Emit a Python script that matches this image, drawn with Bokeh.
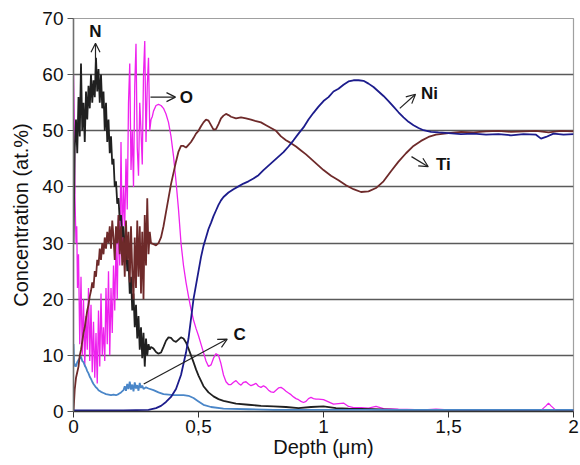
from bokeh.plotting import figure
from bokeh.models import FixedTicker, Arrow, OpenHead, ColumnDataSource
from bokeh.core.properties import value
from bokeh.embed import file_html
from bokeh.resources import INLINE

FONT = "Liberation Sans"

# ---------------- data (depth in µm, concentration in at.%) ----------------
n_depth = [0, .005, .01, .015, .02, .025, .03, .035, .04, .045, .05, .055, .06, .065, .07, .075,
           .08, .085, .09, .095, .1, .105, .11, .115, .12, .125, .13, .135, .14, .145, .15, .155,
           .16, .165, .17, .175, .18, .185, .19, .195, .2, .205, .21, .215, .22, .225, .23, .235,
           .24, .245, .25, .255, .26, .265, .27, .275, .28, .285, .29, .295, .3, .305, .31,
           .32, .33, .34, .35, .36, .37, .38, .39, .40, .41, .42, .43, .44, .45, .46, .47, .48,
           .49, .50, .52, .54, .56, .58, .60, .65, .70, .75, .80, .85, .90, .95, 1.0, 1.05, 1.1,
           1.2, 1.3, 1.4, 1.5, 1.6, 1.7, 1.8, 1.9, 2.0]
n_conc = [30, 47, 52, 46, 56, 49, 62, 50, 55, 48, 57, 52, 58, 54, 60, 55,
          59, 56, 63, 57, 61, 55, 60, 54, 57, 50, 55, 48, 52, 46, 49, 44,
          45, 40, 41, 37, 38, 34, 35, 31, 33, 29, 30, 25, 27, 21, 24, 18,
          21, 15, 19, 13, 17, 11, 15, 9.5, 14, 8, 13, 10, 12, 11, 11.5,
          11.2, 10.6, 10.3, 10.5, 11.5, 12.6, 13.2, 13.1, 12.6, 12.4, 12.8, 13.2, 13.0, 12.3, 11.2, 10.0, 8.8,
          7.5, 6.4, 4.5, 3.4, 2.7, 2.2, 1.9, 1.4, 1.2, 1.0, 0.9, 0.8, 0.6, 0.8, 0.9, 0.6, 0.5,
          0.4, 0.3, 0.3, 0.3, 0.3, 0.3, 0.3, 0.3, 0.3]

o_depth = [0, .003, .006, .01, .013, .016, .02, .025, .03, .035, .04, .045, .05, .055, .06, .065,
           .07, .075, .08, .085, .09, .095, .1, .105, .11, .115, .12, .125, .13, .135, .14, .145,
           .15, .155, .16, .165, .17, .175, .18, .185, .19, .195, .2, .205, .21, .215, .22, .225,
           .23, .235, .24, .245, .25, .255, .26, .265, .27, .275, .28, .285, .29, .295, .3, .305, .31,
           .315, .32, .33, .34, .35, .36, .37, .38, .39, .40, .41, .42, .43, .44, .45, .46, .47, .48,
           .49, .50, .51, .52, .53, .54, .55, .56, .57, .58, .59, .60, .61, .62, .63, .64, .65, .66,
           .67, .68, .69, .70, .71, .72, .73, .74, .75, .76, .77, .78, .79, .80, .81, .82, .83, .84,
           .85, .86, .87, .88, .89, .90, .91, .92, .93, .94, .95, .96, .97, .98, 1.0, 1.02, 1.04,
           1.06, 1.08, 1.10, 1.12, 1.15, 1.18, 1.21, 1.24, 1.3, 1.4, 1.45, 1.5, 1.6, 1.7, 1.8, 1.87,
           1.89, 1.9, 1.91, 1.93, 2.0]
o_conc = [60, 52, 38, 30, 33, 22, 28, 12, 24, 10, 20, 8, 17, 11, 22, 9,
          19, 7, 16, 6, 14, 5, 18, 8, 21, 10, 15, 9, 22, 12, 25, 10,
          22, 14, 26, 18, 30, 20, 35, 26, 48, 30, 40, 33, 45, 36, 55, 62,
          43, 50, 40, 58, 65.5, 47, 42, 55, 50, 44, 60, 66, 48, 58, 63, 50, 52,
          52.5, 53.5, 54.5, 54.7, 54.5, 54.0, 53.0, 51.5, 49.0, 45.5, 41.0, 36.0, 30.0, 26.0, 23.0, 20.5, 18.2, 16.3,
          14.8, 13.5, 12.0, 10.5, 9.0, 8.0, 8.3, 9.5, 10.3, 10.0, 8.5, 6.5, 5.3, 4.8, 4.8, 5.2, 5.5, 5.0,
          4.7, 5.2, 5.3, 4.9, 4.6, 4.8, 5.0, 4.5, 4.3, 4.6, 4.3, 3.8, 3.5, 3.4, 3.8, 4.2, 4.3, 4.0,
          3.6, 3.3, 3.0, 2.6, 2.3, 2.1, 1.8, 1.6, 1.8, 2.3, 2.5, 2.3, 2.2, 2.2, 2.1, 1.7, 1.3,
          1.4, 1.5, 0.9, 0.7, 0.7, 0.6, 0.9, 0.5, 0.4, 0.3, 0.4, 0.3, 0.2, 0.3, 0.2, 0.2,
          1.0, 1.5, 1.0, 0.2, 0.2]

c_depth = [0, .003, .006, .01, .015, .02, .025, .03, .035, .04, .045, .05, .055, .06, .065, .07,
           .075, .08, .085, .09, .095, .1, .11, .12, .13, .14, .15, .16, .17, .18, .19, .2, .205,
           .21, .215, .22, .225, .23, .235, .24, .245, .25, .255, .26, .265, .27, .275, .28, .29,
           .30, .32, .34, .36, .38, .40, .42, .44, .46, .48, .50, .52, .55, .60, .70, .80, 1.0,
           1.5, 2.0]
c_conc = [12, 8, 8.5, 8, 8.8, 9.2, 9.5, 9.8, 9.0, 8.8, 8.2, 7.8, 7.2, 6.8, 6.2, 5.8,
          5.3, 4.9, 4.6, 4.3, 4.1, 3.8, 3.5, 3.3, 3.1, 3.0, 2.9, 3.0, 2.9, 3.1, 3.4, 3.8, 4.5,
          3.7, 4.9, 4.0, 5.3, 3.9, 4.8, 3.6, 5.2, 4.1, 4.7, 3.7, 5.1, 4.2, 4.6, 4.0, 4.3,
          4.1, 3.8, 3.4, 3.1, 3.0, 2.9, 2.9, 2.9, 2.8, 2.4, 1.8, 1.2, 0.8, 0.5, 0.4, 0.3, 0.3,
          0.3, 0.3]

ti_depth = [0, .005, .01, .015, .02, .025, .03, .035, .04, .045, .05, .055, .06, .065, .07, .075,
            .08, .085, .09, .095, .1, .105, .11, .115, .12, .125, .13, .135, .14, .145, .15, .155,
            .16, .165, .17, .175, .18, .185, .19, .195, .2, .205, .21, .215, .22, .225, .23, .235,
            .24, .245, .25, .255, .26, .265, .27, .275, .28, .285, .29, .295, .3, .305, .31,
            .32, .33, .34, .35, .36, .37, .38, .39, .40, .41, .42, .43, .44, .45, .46, .47, .48,
            .49, .50, .51, .52, .53, .54, .55, .56, .57, .58, .59, .60, .61, .62, .63, .65, .67,
            .69, .71, .73, .75, .77, .79, .81, .83, .85, .87, .89, .91, .93, .95, .97, 1.0, 1.03,
            1.06, 1.09, 1.12, 1.15, 1.18, 1.21, 1.24, 1.27, 1.30, 1.33, 1.36, 1.39, 1.42, 1.45,
            1.5, 1.55, 1.6, 1.65, 1.7, 1.75, 1.8, 1.85, 1.9, 1.95, 2.0]
ti_conc = [0, 4, 6, 7, 8, 10, 11, 12.5, 14, 15, 16.5, 18, 19, 20.5, 21.5, 23,
           22, 25, 24, 27, 26, 29, 27, 30, 28, 31, 29, 32, 30, 33, 29, 34,
           31, 27, 33, 30, 35, 28, 33, 26, 31, 24, 34, 27, 32, 23, 33, 25,
           20, 31, 22, 34, 24, 33, 21, 32, 20, 35, 26, 38, 28, 32, 30,
           29.8, 29.6, 30.0, 31.0, 33.0, 35.5, 38.0, 40.5, 42.5, 44.5, 46.3, 47.3, 47.3, 47.0, 47.5, 48.0, 48.7,
           49.5, 50.0, 50.8, 51.5, 52.0, 51.8, 51.0, 50.2, 50.3, 51.2, 52.2, 52.7, 53.0, 52.8, 52.5, 52.2, 52.4,
           52.2, 52.0, 51.7, 51.5, 51.0, 50.5, 50.0, 49.0, 48.3, 47.8, 47.2, 46.5, 45.8, 45.0, 44.2, 43.0, 42.0,
           41.2, 40.3, 39.6, 39.1, 39.2, 39.8, 41.0, 42.8, 44.5, 46.0, 47.3, 48.2, 48.9, 49.3,
           49.6, 49.8, 49.7, 49.9, 50.0, 49.8, 49.9, 50.0, 49.7, 50.0, 49.9]

ni_depth = [0, .1, .2, .25, .30, .33, .35, .37, .39, .41, .43, .44, .45, .46, .47, .48, .49, .50,
            .51, .52, .53, .54, .55, .56, .57, .58, .59, .60, .62, .64, .66, .68, .70, .72, .74,
            .76, .78, .80, .82, .84, .86, .88, .90, .92, .94, .96, .98, 1.0, 1.02, 1.04, 1.06,
            1.08, 1.10, 1.12, 1.14, 1.16, 1.18, 1.20, 1.22, 1.24, 1.26, 1.28, 1.30, 1.32, 1.34,
            1.36, 1.38, 1.40, 1.43, 1.46, 1.5, 1.55, 1.6, 1.65, 1.7, 1.75, 1.8, 1.85, 1.87, 1.89,
            1.92, 1.96, 2.0]
ni_conc = [0.2, 0.2, 0.2, 0.25, 0.3, 0.6, 1.0, 1.7, 2.6, 4.0, 6.5, 8.5, 10.5, 13.0, 16.5, 20.0, 22.5, 25.0,
           27.5, 29.5, 31.0, 32.5, 33.6, 34.8, 35.8, 36.8, 37.6, 38.2, 39.0, 39.6, 40.1, 40.6, 41.0, 41.5, 42.1,
           43.0, 43.8, 44.6, 45.4, 46.2, 47.2, 48.3, 49.5, 50.6, 52.0, 53.2, 54.3, 55.3, 56.0, 57.0, 57.5,
           58.2, 58.8, 59.0, 59.0, 58.9, 58.4, 57.8, 57.0, 56.2, 55.3, 54.3, 53.3, 52.4, 51.6,
           51.0, 50.5, 50.1, 49.8, 49.7, 49.6, 49.4, 49.5, 49.3, 49.4, 49.2, 49.4, 49.3, 48.6, 48.9,
           49.5, 49.3, 49.4]

y_ticks = [0, 10, 20, 30, 40, 50, 60, 70]
x_ticks = [0, 0.5, 1, 1.5, 2]
x_tick_labels = ["0", "0,5", "1", "1,5", "2"]

# annotations: label text, label position, arrow start/end
labels = ["N", "O", "Ni", "Ti", "C"]
label_x = [0.088, 0.425, 1.39, 1.45, 0.64]
label_y = [67.6, 56.0, 56.6, 44.0, 13.8]
label_align = ["center", "left", "left", "left", "left"]
arrow_x0 = [0.088, 0.308, 1.305, 1.352, 0.281]
arrow_y0 = [59.5, 56.0, 54.0, 45.4, 4.9]
arrow_x1 = [0.088, 0.408, 1.368, 1.419, 0.615]
arrow_y1 = [65.6, 56.0, 56.5, 43.6, 12.9]

# ---------------- figure ----------------
p = figure(width=580, height=465, x_range=(0, 2), y_range=(0, 70),
           output_backend="svg", toolbar_location=None,
           min_border_left=73, min_border_right=7, min_border_top=18, min_border_bottom=54)
p.background_fill_color = "white"
p.border_fill_color = "white"
p.outline_line_color = "#a0a0a0"
p.outline_line_width = 1.2

p.xgrid.visible = False
p.ygrid.ticker = FixedTicker(ticks=y_ticks)
p.ygrid.grid_line_color = "#5a5a5a"
p.ygrid.grid_line_width = 1.5

p.yaxis.ticker = FixedTicker(ticks=y_ticks)
p.xaxis.ticker = FixedTicker(ticks=x_ticks)
p.xaxis.major_label_overrides = {t: l for t, l in zip(x_ticks, x_tick_labels)}
for ax in (p.xaxis, p.yaxis):
    ax.minor_tick_line_color = None
    ax.major_tick_in = 0
    ax.major_tick_out = 6
    ax.major_label_text_font = FONT
    ax.major_label_text_font_size = "19px"
    ax.major_label_text_color = "#111111"
    ax.axis_label_text_font = FONT
    ax.axis_label_text_font_style = "normal"
    ax.axis_label_text_color = "#111111"
p.yaxis.axis_label_text_font_size = "20px"
p.xaxis.axis_label_text_font_size = "20px"
p.yaxis.axis_line_color = "#707070"
p.yaxis.axis_line_width = 1.5
p.yaxis.major_tick_line_color = "#555555"
p.yaxis.major_label_standoff = 4
p.yaxis.axis_label_standoff = 7
p.xaxis.axis_line_color = "#333333"
p.xaxis.axis_line_width = 1.3
p.xaxis.major_tick_line_color = "#333333"
p.xaxis.major_label_standoff = 2
p.xaxis.axis_label_standoff = 0
p.yaxis.axis_label = "Concentration (at.%)"
p.xaxis.axis_label = "Depth (\u03bcm)"

# ---------------- curves ----------------
p.line(o_depth, o_conc, line_color="#ee22ee", line_width=1.3)
p.line(n_depth, n_conc, line_color="#202020", line_width=1.8)
p.line(c_depth, c_conc, line_color="#4a86c8", line_width=1.8)
p.line(ti_depth, ti_conc, line_color="#6e2a2a", line_width=1.8)
p.line(ni_depth, ni_conc, line_color="#1c1c8c", line_width=1.8)

# ---------------- annotations ----------------
for x0, y0, x1, y1 in zip(arrow_x0, arrow_y0, arrow_x1, arrow_y1):
    p.add_layout(Arrow(end=OpenHead(size=9, line_width=1.2, line_color="#222222"),
                       x_start=x0, y_start=y0, x_end=x1, y_end=y1,
                       line_color="#222222", line_width=1.2))

src = ColumnDataSource(dict(x=label_x, y=label_y, t=labels, a=label_align))
p.text(x="x", y="y", text="t", source=src, text_align="a", text_baseline="middle",
       text_font=value(FONT), text_font_style="bold", text_font_size="17px",
       text_color="#111111")

open("out.html", "w").write(file_html(p, INLINE))
